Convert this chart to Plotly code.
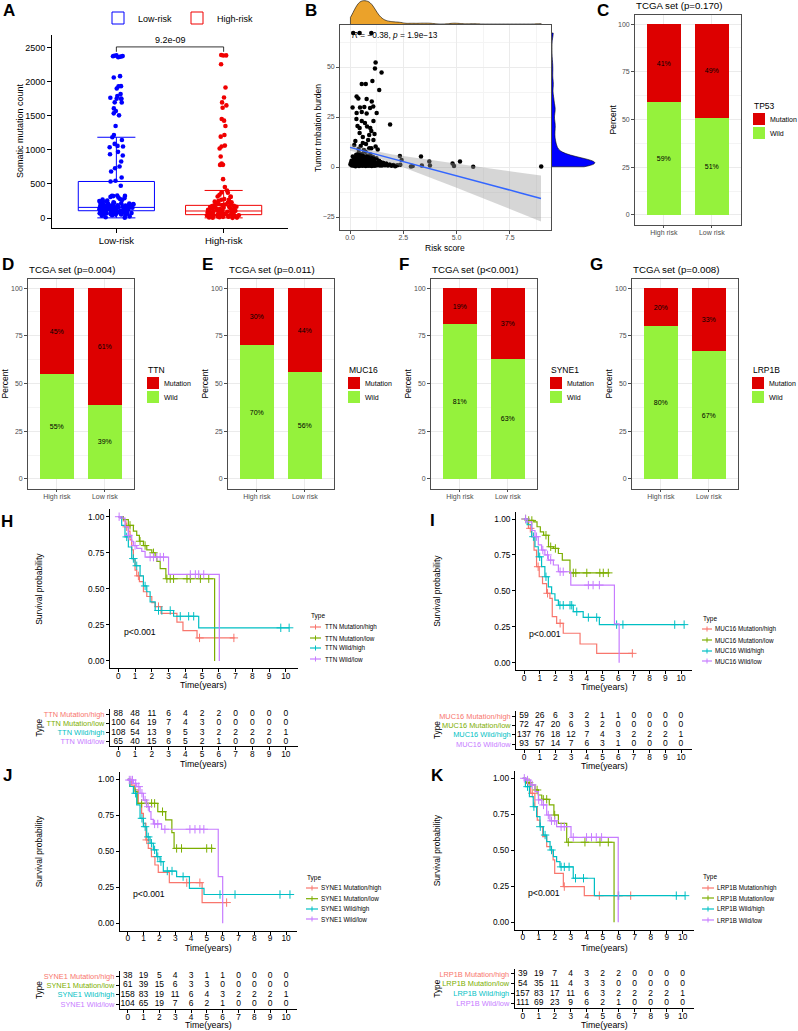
import numpy as np
import plotly.graph_objects as go

W, H = 798, 1031
FONT = "Liberation Sans, Arial, Helvetica, sans-serif"

# ====================== DATA ======================
# ---- Panel A: somatic mutation count by risk group ----
a_groups = ["Low-risk", "High-risk"]
low_risk_counts = [2380, 2372, 2385, 2390, 2362, 2378, 2065, 2085, 1938, 1935, 1904, 1821, 1792, 1753, 1750,
                   1756, 1767, 1700, 1698, 1611, 1572, 1509, 1538, 1353, 1187, 1147, 1221, 1089, 1040, 1060,
                   1050, 972, 918, 938, 830, 757, 732, 684, 596, 547, 474, 537,
                   327, 325, 330, 322, 310, 300, 290, 280, 270, 265, 258, 250, 245, 240, 236, 230, 226, 220,
                   215, 212, 208, 205, 200, 198, 195, 192, 188, 185, 182, 180, 178, 175, 172, 170, 168, 165,
                   163, 160, 158, 156, 155, 153, 150, 148, 146, 145, 143, 140, 138, 136, 135, 133, 130, 128,
                   126, 125, 123, 120, 118, 116, 115, 113, 110, 108, 106, 105, 103, 100, 98, 96, 95, 93, 90,
                   88, 86, 85, 82, 80, 78, 75, 72, 70, 68, 65, 62, 60, 58, 55, 52, 50, 45, 40, 32, 24, 12, 5]
high_risk_counts = [2390, 2388, 2395, 2261, 1919, 1772, 1699, 1655, 1621, 1455, 1353, 1431, 1221, 1196, 1064,
                    1050, 1021, 903, 801, 781, 778, 785, 571, 454, 317, 308, 315, 376, 405, 372, 342, 278, 269, 266,
                    250, 240, 232, 225, 218, 210, 205, 198, 192, 186, 180, 175, 170, 166, 160, 155, 150, 146,
                    142, 138, 134, 130, 126, 122, 118, 115, 112, 108, 105, 103, 100, 97, 94, 91, 88, 85, 82, 80,
                    77, 74, 71, 68, 65, 62, 60, 57, 54, 51, 49, 46, 44, 41, 38, 36, 33, 30, 28, 25, 22, 20, 17,
                    14, 12, 9, 6, 3, 2]
a_q1 = [107, 49]
a_median = [156, 103]
a_q3 = [537, 186]
a_lowerfence = [2, 2]
a_upperfence = [1187, 405]
a_pvalue = "9.2e-09"
a_yticks = [0, 500, 1000, 1500, 2000, 2500]

# ---- Panel B: risk score vs tumor mutation burden ----
b_risk = [0.02, 0.04, 0.07, 0.09, 0.11, 0.13, 0.17, 0.18, 0.19, 0.21,
          0.22, 0.23, 0.26, 0.27, 0.28, 0.29, 0.30, 0.31, 0.32, 0.34,
          0.35, 0.36, 0.37, 0.38, 0.39, 0.40, 0.41, 0.42, 0.43, 0.44,
          0.45, 0.46, 0.47, 0.48, 0.49, 0.50, 0.51, 0.52, 0.53, 0.54,
          0.55, 0.56, 0.57, 0.58, 0.59, 0.60, 0.61, 0.62, 0.63, 0.64,
          0.65, 0.66, 0.67, 0.68, 0.69, 0.70, 0.71, 0.72, 0.73, 0.74,
          0.75, 0.76, 0.77, 0.78, 0.79, 0.80, 0.81, 0.82, 0.83, 0.84,
          0.85, 0.86, 0.87, 0.88, 0.89, 0.90, 0.91, 0.92, 0.93, 0.94,
          0.95, 0.96, 0.97, 0.98, 0.99, 1.00, 1.01, 1.02, 1.03, 1.04,
          1.05, 1.06, 1.08, 1.10, 1.11, 1.13, 1.15, 1.17, 1.19, 1.21,
          1.24, 1.27, 1.30, 1.33, 1.36, 1.40, 1.43, 1.47, 1.50, 1.55,
          1.60, 1.64, 1.70, 1.78, 1.86, 1.95, 2.04, 2.12, 2.22, 2.36,
          0.15, 0.45, 1.00, 1.20, 1.17, 1.48, 1.05, 0.55, 0.74, 1.37,
          0.31, 0.39, 0.78, 1.02, 0.12, 0.47, 0.67, 0.94, 1.09, 0.31,
          0.55, 0.78, 1.25, 0.35, 0.45, 0.80, 0.95, 1.10, 0.45, 0.60,
          0.90, 1.00, 1.10, 0.25, 0.60, 0.85, 1.00, 0.90, 1.20, 1.88,
          0.30, 0.55, 0.70, 0.20, 0.40, 0.65, 1.30, 0.50, 0.75, 1.15,
          2.34, 2.42, 2.86, 2.94, 3.33, 3.37, 3.72, 3.75, 4.81, 4.88, 5.16, 5.78, 8.97]
b_tmb = [1.2, 2.0, 3.1, 0.8, 2.4, 5.2, 1.5, 3.8, 0.6, 2.9,
         4.6, 1.1, 0.4, 2.2, 3.5, 6.1, 1.7, 2.8, 4.2, 0.9,
         3.3, 5.5, 2.1, 1.4, 2.6, 4.0, 7.2, 0.5, 1.9, 3.0,
         4.8, 1.2, 2.4, 3.6, 5.9, 0.7, 1.8, 2.9, 4.4, 1.5,
         2.2, 3.4, 6.5, 0.6, 1.9, 2.7, 4.9, 1.1, 2.5, 3.8,
         5.4, 0.8, 1.6, 3.1, 4.5, 1.3, 2.3, 3.5, 7.6, 0.5,
         1.8, 2.8, 4.1, 1.0, 2.1, 3.2, 5.6, 0.7, 1.5, 2.6,
         3.9, 1.2, 2.4, 4.7, 0.6, 1.7, 3.0, 1.4, 2.2, 3.7,
         6.2, 0.9, 1.9, 2.9, 1.3, 2.6, 4.3, 0.5, 1.6, 3.4,
         1.1, 2.0, 5.0, 0.8, 2.8, 1.5, 3.6, 0.6, 2.3, 1.2,
         4.4, 0.9, 2.0, 1.6, 3.1, 0.7, 2.5, 1.3, 0.8, 2.1,
         1.5, 0.9, 1.8, 0.7, 1.2, 0.6, 1.0, 0.4, 0.9, 1.1,
         67.0, 67.0, 67.0, 52.2, 49.3, 47.2, 43.0, 41.5, 41.5, 38.5,
         35.2, 34.3, 34.0, 32.7, 29.7, 29.7, 30.0, 29.5, 30.3, 27.0,
         27.5, 26.8, 27.0, 20.5, 19.5, 20.2, 19.5, 23.0, 17.0, 15.0,
         16.0, 18.0, 13.5, 13.0, 12.0, 13.5, 9.4, 9.4, 10.2, 21.3,
         24.0, 23.0, 22.0, 11.0, 9.0, 8.5, 8.8, 10.5, 11.5, 16.5,
         5.5, 3.5, 0.2, 0.5, 5.2, 0.7, 2.7, 0.7, 1.8, 0.5, 2.7, 0.1, 0.2]
b_fit_x = [0, 1, 2, 3, 4, 5, 6, 7, 8, 8.96]
b_fit_y = [9.8, 7.0, 4.1, 1.3, -1.6, -4.4, -7.3, -10.1, -13.0, -15.7]
b_fit_lo = [8.1, 5.6, 1.9, -2.1, -6.2, -10.4, -14.6, -18.8, -23.0, -27.2]
b_fit_hi = [11.5, 8.4, 6.3, 4.7, 3.1, 1.6, 0.0, -1.4, -2.9, -4.2]
b_stat_text = "<i>R</i> = \u22120.38, <i>p</i> = 1.9e\u221213"
b_xticks = [0, 2.5, 5, 7.5]
b_xticktext = ["0.0", "2.5", "5.0", "7.5"]
b_yticks = [-25, 0, 25, 50]

# ---- Panels C-G: mutation percent by risk group ----
bar_groups = ["High risk", "Low risk"]
tp53_mut = [41, 49]
tp53_wild = [59, 51]
ttn_mut = [45, 61]
ttn_wild = [55, 39]
muc16_mut = [30, 44]
muc16_wild = [70, 56]
syne1_mut = [19, 37]
syne1_wild = [81, 63]
lrp1b_mut = [20, 33]
lrp1b_wild = [80, 67]
bar_yticks = [0, 25, 50, 75, 100]

# ---- Panels H-K: Kaplan-Meier curves (time in years, survival) ----
km_ticks = list(range(11))
km_yticks = [0, 0.25, 0.5, 0.75, 1.0]

ttn_mh_t = [0, 0.15, 0.3, 0.45, 0.6, 0.7, 0.8, 0.9, 1.0, 1.1, 1.26, 1.5, 1.7, 2.0, 2.2, 2.55, 3.5, 3.86, 4.7, 6.95]
ttn_mh_s = [1, 0.99, 0.97, 0.93, 0.9, 0.84, 0.77, 0.70, 0.63, 0.59, 0.55, 0.48, 0.447, 0.405, 0.377, 0.33, 0.27, 0.21, 0.16, 0.16]
ttn_mh_c = [0.5, 1.2, 2.4, 4.85, 6.9]
ttn_ml_t = [0, 0.3, 0.6, 0.9, 1.1, 1.26, 1.5, 1.7, 2.0, 2.2, 2.3, 2.5, 2.84, 5.75]
ttn_ml_s = [1, 0.98, 0.94, 0.9, 0.87, 0.83, 0.80, 0.77, 0.75, 0.72, 0.69, 0.64, 0.57, 0]
ttn_ml_c = [0.7, 1.3, 1.6, 2.1, 2.9, 3.1, 3.3, 4.1, 4.3, 4.9, 5.4]
ttn_wh_t = [0, 0.2, 0.4, 0.6, 0.8, 1.0, 1.3, 1.5, 1.7, 1.9, 2.2, 3.3, 4.8, 10.2]
ttn_wh_s = [1, 0.94, 0.86, 0.79, 0.71, 0.66, 0.59, 0.52, 0.48, 0.41, 0.35, 0.31, 0.23, 0.23]
ttn_wh_c = [0.5, 0.9, 1.1, 1.6, 2.4, 2.6, 3.1, 3.7, 4.2, 4.5, 9.7, 10.2]
ttn_wl_t = [0, 0.1, 0.4, 0.6, 0.8, 0.9, 1.1, 1.4, 1.6, 3.0, 6.03]
ttn_wl_s = [1, 0.99, 0.93, 0.87, 0.83, 0.80, 0.78, 0.76, 0.72, 0.60, 0]
ttn_wl_c = [0.05, 0.6, 1.0, 1.9, 2.1, 2.3, 2.5, 2.7, 4.3, 4.6, 4.8, 5.1]
ttn_n_mh = [88, 48, 11, 6, 4, 2, 2, 0, 0, 0, 0]
ttn_n_ml = [100, 64, 19, 7, 4, 3, 0, 0, 0, 0, 0]
ttn_n_wh = [108, 54, 13, 9, 5, 3, 2, 2, 2, 2, 1]
ttn_n_wl = [65, 40, 15, 6, 5, 2, 1, 0, 0, 0, 0]

muc16_mh_t = [0, 0.28, 0.49, 0.64, 0.8, 0.97, 1.18, 1.44, 1.65, 1.8, 2.08, 2.5, 3.57, 4.63, 6.96]
muc16_mh_s = [1, 0.935, 0.877, 0.784, 0.668, 0.598, 0.55, 0.483, 0.448, 0.32, 0.274, 0.205, 0.13, 0.065, 0.065]
muc16_mh_c = [0.4, 0.9, 1.5, 2.3, 6.9]
muc16_ml_t = [0, 0.2, 0.62, 0.83, 1.04, 1.25, 1.56, 1.87, 2.19, 2.44, 2.93, 5.45]
muc16_ml_s = [1, 0.99, 0.98, 0.946, 0.911, 0.887, 0.807, 0.795, 0.76, 0.714, 0.625, 0.625]
muc16_ml_c = [0.1, 0.3, 0.5, 1.4, 1.7, 2.0, 3.14, 3.3, 4.0, 4.83, 5.05, 5.37]
muc16_wh_t = [0, 0.2, 0.49, 0.7, 0.91, 1.12, 1.33, 1.55, 1.76, 1.97, 2.19, 3.14, 3.77, 4.8, 10.2]
muc16_wh_s = [1, 0.96, 0.877, 0.807, 0.737, 0.668, 0.598, 0.528, 0.48, 0.436, 0.40, 0.355, 0.315, 0.265, 0.265]
muc16_wh_c = [0.6, 1.0, 1.4, 2.29, 2.5, 2.93, 3.04, 3.36, 4.1, 4.63, 5.9, 6.3, 9.6, 10.2]
muc16_wl_t = [0, 0.2, 0.49, 0.7, 0.91, 1.12, 1.33, 1.55, 1.87, 2.19, 2.98, 5.76, 6.06]
muc16_wl_s = [1, 0.98, 0.92, 0.877, 0.82, 0.784, 0.75, 0.714, 0.68, 0.633, 0.54, 0.27, 0]
muc16_wl_c = [0.1, 0.8, 1.2, 1.5, 1.7, 2.3, 2.5, 4.1, 4.4, 4.8]
muc16_n_mh = [59, 26, 6, 3, 2, 1, 1, 0, 0, 0, 0]
muc16_n_ml = [72, 47, 20, 6, 3, 2, 0, 0, 0, 0, 0]
muc16_n_wh = [137, 76, 18, 12, 7, 4, 3, 2, 2, 2, 1]
muc16_n_wl = [93, 57, 14, 7, 6, 3, 1, 0, 0, 0, 0]

syne1_mh_t = [0, 0.25, 0.46, 0.67, 0.88, 0.99, 1.15, 1.3, 1.5, 1.72, 1.93, 2.63, 4.7, 6.25]
syne1_mh_s = [1, 0.96, 0.926, 0.833, 0.764, 0.694, 0.579, 0.52, 0.463, 0.405, 0.354, 0.282, 0.144, 0.144]
syne1_mh_c = [1.2, 3.73, 4.56, 6.25]
syne1_ml_t = [0, 0.14, 0.46, 0.6, 1.9, 2.4, 2.79, 2.93, 5.41]
syne1_ml_s = [1, 0.95, 0.914, 0.833, 0.775, 0.718, 0.63, 0.52, 0.52]
syne1_ml_c = [0.88, 1.2, 1.51, 1.7, 2.2, 3.09, 3.4, 4.99, 5.3]
syne1_wh_t = [0, 0.14, 0.36, 0.57, 0.78, 0.99, 1.2, 1.41, 1.62, 1.83, 2.04, 2.25, 3.09, 3.9, 4.82, 10.25]
syne1_wh_s = [1, 0.95, 0.903, 0.822, 0.729, 0.671, 0.6, 0.556, 0.51, 0.463, 0.428, 0.363, 0.324, 0.243, 0.2, 0.2]
syne1_wh_c = [0.5, 0.9, 1.1, 1.3, 1.5, 1.7, 1.9, 2.1, 2.5, 2.8, 3.5, 5.83, 6.78, 9.62, 10.25]
syne1_wl_t = [0, 0.04, 0.36, 0.57, 0.78, 0.99, 1.2, 1.37, 1.47, 1.62, 2.14, 5.72, 6.0]
syne1_wl_s = [1, 0.995, 0.972, 0.949, 0.903, 0.856, 0.81, 0.775, 0.722, 0.69, 0.653, 0.324, 0]
syne1_wl_c = [0.1, 0.2, 0.3, 0.5, 0.7, 0.9, 1.1, 1.3, 1.7, 1.9, 2.35, 3.93, 4.25, 4.56, 4.81]
syne1_n_mh = [38, 19, 5, 4, 3, 1, 1, 0, 0, 0, 0]
syne1_n_ml = [61, 39, 15, 6, 3, 3, 0, 0, 0, 0, 0]
syne1_n_wh = [158, 83, 19, 11, 6, 4, 3, 2, 2, 2, 1]
syne1_n_wl = [104, 65, 19, 7, 6, 2, 1, 0, 0, 0, 0]

lrp1b_mh_t = [0, 0.2, 0.5, 0.76, 0.91, 1.08, 1.25, 1.5, 1.8, 1.9, 2.0, 2.54, 3.85, 6.75]
lrp1b_mh_s = [1, 0.965, 0.896, 0.803, 0.71, 0.664, 0.595, 0.525, 0.49, 0.433, 0.34, 0.248, 0.185, 0.185]
lrp1b_mh_c = [0.6, 2.6, 4.79, 5.97, 6.75]
lrp1b_ml_t = [0, 0.2, 0.5, 0.77, 0.98, 1.19, 1.66, 1.95, 2.23, 2.75, 5.71]
lrp1b_ml_s = [1, 0.97, 0.954, 0.919, 0.884, 0.854, 0.815, 0.745, 0.687, 0.556, 0]
lrp1b_ml_c = [0.4, 0.9, 1.29, 1.5, 2.0, 2.85, 3.89, 4.83, 5.35]
lrp1b_wh_t = [0, 0.17, 0.42, 0.66, 0.87, 1.08, 1.29, 1.5, 1.71, 1.92, 2.12, 2.33, 3.16, 4.48, 10.15]
lrp1b_wh_s = [1, 0.942, 0.873, 0.803, 0.734, 0.664, 0.606, 0.56, 0.502, 0.456, 0.421, 0.385, 0.306, 0.185, 0.185]
lrp1b_wh_c = [0.3, 0.7, 1.1, 1.4, 1.8, 2.4, 2.6, 2.9, 3.3, 3.8, 6.0, 9.6, 10.15]
lrp1b_wl_t = [0, 0.2, 0.5, 0.77, 0.98, 1.19, 1.5, 1.7, 2.12, 3.02, 5.97]
lrp1b_wl_s = [1, 0.988, 0.954, 0.907, 0.85, 0.815, 0.745, 0.705, 0.664, 0.59, 0]
lrp1b_wl_c = [0.1, 0.3, 0.6, 1.0, 1.3, 1.6, 1.8, 2.0, 2.4, 2.6, 3.16, 3.99, 4.3, 4.6, 4.93]
lrp1b_n_mh = [39, 19, 7, 4, 3, 2, 2, 0, 0, 0, 0]
lrp1b_n_ml = [54, 35, 11, 4, 3, 3, 0, 0, 0, 0, 0]
lrp1b_n_wh = [157, 83, 17, 11, 6, 3, 2, 2, 2, 2, 1]
lrp1b_n_wl = [111, 69, 23, 9, 6, 2, 1, 0, 0, 0, 0]

# ====================== STYLE ======================
BLUE = "#0000FF"
RED_A = "#F00000"
BAR_RED = "#DD0000"
BAR_GREEN = "#95F23C"
ORANGE = "#EBA22A"
KM_COLORS = ["#F8766D", "#7CAE00", "#00BFC4", "#C77CFF"]
FRAME = "#4D4D4D"
TICKC = "#4D4D4D"
GRID = "#EBEBEB"
GRID_MINOR = "#F4F4F4"

fig = go.Figure()
L = dict(width=W, height=H, autosize=False, margin=dict(l=0, r=0, t=0, b=0),
         paper_bgcolor="white", plot_bgcolor="white",
         font=dict(family=FONT, size=9, color="black"),
         boxmode="overlay", barmode="stack", showlegend=True)
annotations = []
shapes = []


def axkey(i):
    s = "" if i == 1 else str(i)
    return "xaxis" + s, "yaxis" + s, "x" + s, "y" + s


def xd(a, b):
    return [a / W, b / W]


def yd(top, bot):
    return [1 - bot / H, 1 - top / H]


def PX(x):
    return x / W


def PY(y):
    return 1 - y / H


def text(t, x, y, size, color="black", xanchor="center", yanchor="middle", angle=0, bold=False):
    if bold:
        t = "<b>" + t + "</b>"
    annotations.append(dict(text=t, x=PX(x), y=PY(y), xref="paper", yref="paper", showarrow=False,
                            font=dict(size=size, color=color, family=FONT),
                            xanchor=xanchor, yanchor=yanchor, textangle=angle, borderpad=0))


def hline(x0, x1, y, color, width=1):
    shapes.append(dict(type="line", xref="paper", yref="paper", x0=PX(x0), x1=PX(x1), y0=PY(y), y1=PY(y),
                       line=dict(color=color, width=width)))


def vline(x, y0, y1, color, width=1):
    shapes.append(dict(type="line", xref="paper", yref="paper", x0=PX(x), x1=PX(x), y0=PY(y0), y1=PY(y1),
                       line=dict(color=color, width=width)))


def rect(x0, y0, x1, y1, color):
    shapes.append(dict(type="rect", xref="paper", yref="paper", x0=PX(x0), x1=PX(x1), y0=PY(y1), y1=PY(y0),
                       fillcolor=color, line=dict(width=0)))


# ====================== PANEL A ======================
L["xaxis"] = dict(domain=xd(52, 288), anchor="y", type="category", categoryorder="array",
                  categoryarray=a_groups, range=[-0.6, 1.6], showline=True, linecolor="black", linewidth=1,
                  ticks="outside", ticklen=4, tickcolor="black", tickfont=dict(size=9.5, color="black"),
                  showgrid=False, zeroline=False)
L["yaxis"] = dict(domain=yd(35, 228), anchor="x", range=[-147, 2690], tickvals=a_yticks,
                  showline=True, linecolor="black", linewidth=1, ticks="outside", ticklen=4, tickcolor="black",
                  tickfont=dict(size=9, color="black"), showgrid=False, zeroline=False)
for i, (g, vals, col) in enumerate(zip(a_groups, [low_risk_counts, high_risk_counts], [BLUE, RED_A])):
    fig.add_trace(go.Box(x=[g], q1=[a_q1[i]], median=[a_median[i]], q3=[a_q3[i]],
                         lowerfence=[a_lowerfence[i]], upperfence=[a_upperfence[i]],
                         name=g, width=0.71, fillcolor="white", line=dict(color=col, width=1),
                         boxpoints=False, xaxis="x", yaxis="y", showlegend=True, hoverinfo="skip",
                         marker=dict(color=col)))
    fig.add_trace(go.Box(x=[g] * len(vals), y=vals, name=g, width=0.71, boxpoints="all", jitter=0.45,
                         pointpos=0, fillcolor="rgba(0,0,0,0)", line=dict(color="rgba(0,0,0,0)", width=0),
                         marker=dict(color=col, size=4.6), xaxis="x", yaxis="y", showlegend=False,
                         hoverinfo="skip"))
a_max = max(max(low_risk_counts), max(high_risk_counts))
br_y = a_max * 1.05
tip_y = br_y - 0.03 * a_max
fig.add_trace(go.Scatter(x=[a_groups[0], a_groups[0], a_groups[1], a_groups[1]],
                         y=[tip_y, br_y, br_y, tip_y], mode="lines", line=dict(color="black", width=0.8),
                         xaxis="x", yaxis="y", showlegend=False, hoverinfo="skip"))
annotations.append(dict(text=a_pvalue, x=0.5, y=br_y, xref="x", yref="y", yanchor="bottom", showarrow=False,
                        font=dict(size=9, family=FONT)))
L["legend"] = dict(orientation="h", x=PX(98), y=PY(18), xanchor="left", yanchor="middle",
                   font=dict(size=9, family=FONT), bgcolor="rgba(0,0,0,0)", itemwidth=30,
                   traceorder="normal")
text("Somatic mutation count", 20, 131, 9, angle=-90)
text("A", 9, 11, 17, bold=True)

# ====================== PANEL B ======================
bx_dom = xd(340, 551)
L["xaxis2"] = dict(domain=bx_dom, anchor="y2", range=[-0.47, 9.43], tickvals=b_xticks, ticktext=b_xticktext,
                   showline=True, mirror=True, linecolor=FRAME, linewidth=0.8, ticks="outside", ticklen=3,
                   tickcolor=FRAME, tickfont=dict(size=7, color=TICKC), showgrid=True, gridcolor=GRID,
                   gridwidth=0.7, zeroline=False, ticklabelstandoff=-2,
                   minor=dict(tickvals=[1.25, 3.75, 6.25, 8.75], showgrid=True, gridcolor=GRID_MINOR, gridwidth=0.5))
L["yaxis2"] = dict(domain=yd(25, 230), anchor="x2", range=[-31.5, 71], tickvals=b_yticks,
                   showline=True, mirror=True, linecolor=FRAME, linewidth=0.8, ticks="outside", ticklen=3,
                   tickcolor=FRAME, tickfont=dict(size=7, color=TICKC), showgrid=True, gridcolor=GRID,
                   gridwidth=0.7, zeroline=False,
                   minor=dict(tickvals=[-12.5, 12.5, 37.5, 62.5], showgrid=True, gridcolor=GRID_MINOR, gridwidth=0.5))
fig.add_trace(go.Scatter(x=b_risk, y=b_tmb, mode="markers", marker=dict(color="black", size=4.5),
                         xaxis="x2", yaxis="y2", showlegend=False, hoverinfo="skip"))
fig.add_trace(go.Scatter(x=b_fit_x + b_fit_x[::-1], y=b_fit_hi + b_fit_lo[::-1], fill="toself",
                         fillcolor="rgba(153,153,153,0.4)", line=dict(width=0), mode="lines",
                         xaxis="x2", yaxis="y2", showlegend=False, hoverinfo="skip"))
fig.add_trace(go.Scatter(x=b_fit_x, y=b_fit_y, mode="lines", line=dict(color="#3366FF", width=1.5),
                         xaxis="x2", yaxis="y2", showlegend=False, hoverinfo="skip"))
annotations.append(dict(text=b_stat_text, x=0, y=66, xref="x2", yref="y2", xanchor="left", yanchor="middle",
                        showarrow=False, font=dict(size=8.3, family=FONT)))
# marginal densities
L["xaxis3"] = dict(domain=bx_dom, anchor="y3", matches="x2", visible=False)
L["yaxis3"] = dict(domain=yd(0, 24), anchor="x3", range=[0, 1.03], type="linear", visible=False)
fig.add_trace(go.Violin(x=b_risk, y0=0, orientation="h", side="positive", width=2, points=False,
                        fillcolor=ORANGE, line=dict(color="black", width=0.6), spanmode="hard", opacity=1,
                        xaxis="x3", yaxis="y3", showlegend=False, hoverinfo="skip"))
L["xaxis4"] = dict(domain=xd(552, 596), anchor="y4", range=[0, 1.03], type="linear", visible=False)
L["yaxis4"] = dict(domain=yd(25, 230), anchor="x4", matches="y2", visible=False)
fig.add_trace(go.Violin(y=b_tmb, x0=0, orientation="v", side="positive", width=2, points=False,
                        fillcolor=BLUE, line=dict(color="black", width=0.6), spanmode="hard", opacity=1,
                        xaxis="x4", yaxis="y4", showlegend=False, hoverinfo="skip"))
text("Risk score", 445, 248, 8.5)
text("Tumor tmbation burden", 318, 128, 8.5, angle=-90)
text("B", 311, 10, 17, bold=True)

# ====================== PANELS C-G ======================
bar_cfg = [
    (5, "C", (603, 11), 635, 14.5, tp53_mut, tp53_wild, "TP53", "p=0.170", 753),
    (6, "D", (8, 265), 28, 278.5, ttn_mut, ttn_wild, "TTN", "p=0.004", 147),
    (7, "E", (207, 265), 228, 278.5, muc16_mut, muc16_wild, "MUC16", "p=0.011", 348),
    (8, "F", (404, 265), 431, 278.5, syne1_mut, syne1_wild, "SYNE1", "p<0.001", 550),
    (9, "G", (596, 265), 632, 278.5, lrp1b_mut, lrp1b_wild, "LRP1B", "p=0.008", 752),
]
for idx, lab, lab_xy, left, top, mut, wild, gene, pv, lx in bar_cfg:
    xa, ya, xr, yr = axkey(idx)
    right = left + 2.2 * 48
    bot = top + 210
    L[xa] = dict(domain=xd(left, right), anchor=yr, type="category", categoryorder="array",
                 categoryarray=bar_groups, range=[-0.6, 1.6], showline=True, mirror=True, linecolor=FRAME,
                 linewidth=0.8, ticks="outside", ticklen=3, tickcolor=FRAME, tickfont=dict(size=7, color=TICKC),
                 showgrid=True, gridcolor=GRID, gridwidth=0.7, zeroline=False, ticklabelstandoff=-2)
    L[ya] = dict(domain=yd(top, bot), anchor=xr, range=[-5, 105], tickvals=bar_yticks, showline=True,
                 mirror=True, linecolor=FRAME, linewidth=0.8, ticks="outside", ticklen=3, tickcolor=FRAME,
                 tickfont=dict(size=7, color=TICKC), showgrid=True, gridcolor=GRID, gridwidth=0.7,
                 zeroline=False,
                 minor=dict(tickvals=[12.5, 37.5, 62.5, 87.5], showgrid=True, gridcolor=GRID_MINOR, gridwidth=0.5))
    for vals, col in ((wild, BAR_GREEN), (mut, BAR_RED)):
        fig.add_trace(go.Bar(x=bar_groups, y=vals, width=0.7, marker=dict(color=col, line=dict(width=0)),
                             text=[f"{v}%" for v in vals], textposition="inside", insidetextanchor="middle",
                             textangle=0, insidetextfont=dict(size=7, color="black", family=FONT),
                             xaxis=xr, yaxis=yr, showlegend=False, hoverinfo="skip"))
    text("TCGA set (" + pv + ")", left, top - 9.5, 9.7, xanchor="left")
    text("Percent", left - 23, (top + bot) / 2, 8.5, angle=-90)
    # legend
    ty = top + 91.5
    text(gene, lx, ty, 8.5, xanchor="left")
    rect(lx, ty + 7, lx + 12, ty + 19, BAR_RED)
    rect(lx, ty + 21, lx + 12, ty + 33, BAR_GREEN)
    text("Mutation", lx + 16, ty + 13, 7, xanchor="left")
    text("Wild", lx + 16, ty + 27, 7, xanchor="left")
    text(lab, lab_xy[0], lab_xy[1], 17, bold=True)

# ====================== PANELS H-K ======================
km_cfg = [
    dict(ax=10, lab="H", lab_xy=(7, 521), gene="TTN",
         curves=[(ttn_mh_t, ttn_mh_s, ttn_mh_c), (ttn_ml_t, ttn_ml_s, ttn_ml_c),
                 (ttn_wh_t, ttn_wh_s, ttn_wh_c), (ttn_wl_t, ttn_wl_s, ttn_wl_c)],
         nrisk=[ttn_n_mh, ttn_n_ml, ttn_n_wh, ttn_n_wl],
         x0=118.3, ppy=16.75, y1=516.7, y0=661.0, rt=714.0, rb=741.7, ylx=39, xt1=685, xt2=764,
         leg=(310, 616, [627, 638, 648, 659], 321, 324)),
    dict(ax=12, lab="I", lab_xy=(432, 520), gene="MUC16",
         curves=[(muc16_mh_t, muc16_mh_s, muc16_mh_c), (muc16_ml_t, muc16_ml_s, muc16_ml_c),
                 (muc16_wh_t, muc16_wh_s, muc16_wh_c), (muc16_wl_t, muc16_wl_s, muc16_wl_c)],
         nrisk=[muc16_n_mh, muc16_n_ml, muc16_n_wh, muc16_n_wl],
         x0=524.0, ppy=15.7, y1=519.0, y0=662.7, rt=716.0, rb=744.0, ylx=437, xt1=687, xt2=766,
         leg=(702, 619, [629, 640, 651, 661], 712, 714)),
    dict(ax=14, lab="J", lab_xy=(7, 775), gene="SYNE1",
         curves=[(syne1_mh_t, syne1_mh_s, syne1_mh_c), (syne1_ml_t, syne1_ml_s, syne1_ml_c),
                 (syne1_wh_t, syne1_wh_s, syne1_wh_c), (syne1_wl_t, syne1_wl_s, syne1_wl_c)],
         nrisk=[syne1_n_mh, syne1_n_ml, syne1_n_wh, syne1_n_wl],
         x0=127.7, ppy=15.83, y1=779.3, y0=923.3, rt=976.0, rb=1004.0, ylx=39, xt1=948, xt2=1025,
         leg=(306, 878, [888, 898.7, 909, 919], 318, 320)),
    dict(ax=16, lab="K", lab_xy=(437, 775), gene="LRP1B",
         curves=[(lrp1b_mh_t, lrp1b_mh_s, lrp1b_mh_c), (lrp1b_ml_t, lrp1b_ml_s, lrp1b_ml_c),
                 (lrp1b_wh_t, lrp1b_wh_s, lrp1b_wh_c), (lrp1b_wl_t, lrp1b_wl_s, lrp1b_wl_c)],
         nrisk=[lrp1b_n_mh, lrp1b_n_ml, lrp1b_n_wh, lrp1b_n_wl],
         x0=522.7, ppy=16.0, y1=778.3, y0=922.3, rt=974.0, rb=1003.3, ylx=437, xt1=948, xt2=1025,
         leg=(702, 877, [888, 898, 909, 920], 714, 716)),
]


def step_at(times, surv, t):
    idx = np.searchsorted(np.asarray(times, dtype=float), np.asarray(t, dtype=float), side="right") - 1
    return np.asarray(surv, dtype=float)[np.clip(idx, 0, len(surv) - 1)].tolist()


for c in km_cfg:
    g = c["gene"]
    labels = [g + " Mutation/high", g + " Mutation/low", g + " Wild/high", g + " Wild/low"]
    xmin, xmax = -0.5, 10.7
    left = c["x0"] + xmin * c["ppy"]
    right = c["x0"] + xmax * c["ppy"]
    span = c["y0"] - c["y1"]
    km_top = c["y1"] - 0.05 * span
    km_bot = c["y0"] + 0.05 * span
    xa, ya, xr, yr = axkey(c["ax"])
    L[xa] = dict(domain=xd(left, right), anchor=yr, range=[xmin, xmax], tickvals=km_ticks, showline=True,
                 linecolor="black", linewidth=1, ticks="outside", ticklen=3, tickcolor="black",
                 tickfont=dict(size=8.3, color="black"), showgrid=False, zeroline=False,
                 ticklabelstandoff=-3)
    L[ya] = dict(domain=yd(km_top, km_bot), anchor=xr, range=[-0.05, 1.05], tickvals=km_yticks,
                 ticktext=["0.00", "0.25", "0.50", "0.75", "1.00"], showline=True, linecolor="black",
                 linewidth=1, ticks="outside", ticklen=3, tickcolor="black",
                 tickfont=dict(size=8.3, color="black"), showgrid=False, zeroline=False)
    for (tt, ss, cc), col in zip(c["curves"], KM_COLORS):
        fig.add_trace(go.Scatter(x=tt, y=ss, mode="lines", line=dict(color=col, width=1.2, shape="hv"),
                                 xaxis=xr, yaxis=yr, showlegend=False, hoverinfo="skip"))
        fig.add_trace(go.Scatter(x=cc, y=step_at(tt, ss, cc), mode="markers",
                                 marker=dict(symbol="cross-thin", size=6, color=col, line=dict(color=col, width=1)),
                                 xaxis=xr, yaxis=yr, showlegend=False, hoverinfo="skip"))
    annotations.append(dict(text="p<0.001", x=0.2, y=0.2, xref=xr, yref=yr, xanchor="left", yanchor="middle",
                            showarrow=False, font=dict(size=8.7, family=FONT)))
    text("Survival probability", c["ylx"], (c["y1"] + c["y0"]) / 2, 8.5, angle=-90)
    text("Time(years)", (left + right) / 2, c["xt1"], 8.8)
    # risk table
    xa2, ya2, xr2, yr2 = axkey(c["ax"] + 1)
    d = (c["rb"] - c["rt"]) / 3
    L[xa2] = dict(domain=xd(left, right), anchor=yr2, range=[xmin, xmax], tickvals=km_ticks, showline=True,
                  linecolor="black", linewidth=1, ticks="outside", ticklen=3, tickcolor="black",
                  tickfont=dict(size=8.3, color="black"), showgrid=False, zeroline=False,
                  ticklabelstandoff=-3)
    L[ya2] = dict(domain=yd(c["rt"] - d / 2, c["rb"] + d / 2), anchor=xr2, range=[0.5, 4.5],
                  tickvals=[4, 3, 2, 1],
                  ticktext=[f'<span style="color:{col}">{lb}</span>' for lb, col in zip(labels, KM_COLORS)],
                  showline=True, linecolor="black", linewidth=1, ticks="outside", ticklen=3, tickcolor="black",
                  tickfont=dict(size=7.4), showgrid=False, zeroline=False)
    for r, nr in enumerate(c["nrisk"]):
        fig.add_trace(go.Scatter(x=km_ticks, y=[4 - r] * len(km_ticks), mode="text", text=[str(v) for v in nr],
                                 textfont=dict(size=8.5, color="black", family=FONT), textposition="middle center",
                                 xaxis=xr2, yaxis=yr2, showlegend=False, hoverinfo="skip"))
    text("Type", c["ylx"], (c["rt"] + c["rb"]) / 2, 8.3, angle=-90)
    text("Time(years)", (left + right) / 2, c["xt2"], 8.8)
    # legend
    lx, lty, lys, icr, txx = c["leg"]
    text("Type", lx, lty, 6.5, xanchor="left")
    for lb, yv, col in zip(labels, lys, KM_COLORS):
        hline(lx, icr, yv, col, 1.2)
        vline((lx + icr) / 2, yv - 2.5, yv + 2.5, col, 1)
        text(lb, txx, yv, 6.3, xanchor="left")
    text(c["lab"], c["lab_xy"][0], c["lab_xy"][1], 17, bold=True)

L["annotations"] = annotations
L["shapes"] = shapes
fig.update_layout(**L)
fig.write_html("out.html", config={"displayModeBar": False},
               post_script="document.body.style.margin='0';document.body.style.overflow='hidden';")
